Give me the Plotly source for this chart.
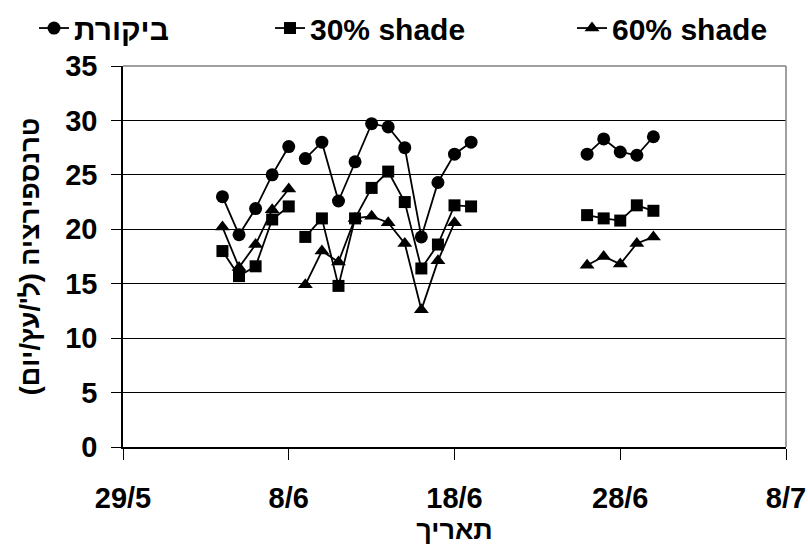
import plotly.graph_objects as go

# ---- data (None = gap in the measured series) ----
dates = [
    "2009-06-04", "2009-06-05", "2009-06-06", "2009-06-07", "2009-06-08",
    "2009-06-08 12:00",
    "2009-06-09", "2009-06-10", "2009-06-11", "2009-06-12", "2009-06-13",
    "2009-06-14", "2009-06-15", "2009-06-16", "2009-06-17", "2009-06-18",
    "2009-06-19",
    "2009-06-22",
    "2009-06-26", "2009-06-27", "2009-06-28", "2009-06-29", "2009-06-30",
]
control = [23.0, 19.5, 21.9, 25.0, 27.6,
           None,
           26.5, 28.0, 22.6, 26.2, 29.7, 29.4, 27.5, 19.3, 24.3, 26.9, 28.0,
           None,
           26.9, 28.3, 27.1, 26.8, 28.5]
shade30 = [18.0, 15.7, 16.6, 20.9, 22.1,
           None,
           19.3, 21.0, 14.8, 21.0, 23.8, 25.3, 22.5, 16.4, 18.6, 22.2, 22.1,
           None,
           21.3, 21.0, 20.8, 22.2, 21.7]
shade60 = [20.2, 16.5, 18.6, 21.8, 23.7,
           None,
           14.9, 18.0, 17.0, 21.0, 21.2, 20.6, 18.7, 12.6, 17.1, 20.6, None,
           None,
           16.7, 17.5, 16.8, 18.7, 19.3]

series_names = ["ביקורת", "30% shade", "60% shade"]
tick_dates = ["2009-05-29", "2009-06-08", "2009-06-18", "2009-06-28", "2009-07-08"]
tick_labels = ["29/5", "8/6", "18/6", "28/6", "8/7"]
y_title = "טרנספירציה (ל'/עץ/יום)\u200f"
x_title = "תאריך"

FONT = "Liberation Sans, Arial, sans-serif"

fig = go.Figure()
styles = [("circle", 13, "legend"), ("square", 12, "legend2"), ("triangle-up", 13, "legend3")]
for name, vals, (sym, size, leg) in zip(series_names, [control, shade30, shade60], styles):
    fig.add_trace(go.Scatter(
        x=dates, y=vals, name=name, mode="lines+markers",
        connectgaps=False,
        line=dict(color="black", width=1.8),
        marker=dict(symbol=sym, size=size, color="black"),
        legend=leg,
    ))

legfont = dict(family=FONT, size=30, color="black", weight="bold")
def leg(xpx):
    return dict(x=(xpx - 123) / 663, y=(447.3 - 28) / 381.3, xanchor="left", yanchor="middle",
                orientation="h", font=legfont, bgcolor="rgba(0,0,0,0)", borderwidth=0,
                itemwidth=30)

fig.update_layout(
    width=808, height=552,
    margin=dict(l=123, r=22, t=66, b=105, autoexpand=False),
    paper_bgcolor="white", plot_bgcolor="white",
    showlegend=True,
    legend=leg(34), legend2=leg(270), legend3=leg(572),
    xaxis=dict(
        type="date",
        range=["2009-05-29", "2009-07-08"],
        tickvals=tick_dates, ticktext=tick_labels,
        ticks="outside", ticklen=11, tickwidth=1.3, tickcolor="black",
        showline=True, linecolor="black", linewidth=1.5,
        showgrid=False, zeroline=False,
        tickfont=dict(family=FONT, size=29, color="black", weight="bold"),
        ticklabelstandoff=13,
        title=dict(text=x_title, standoff=8,
                   font=dict(family=FONT, size=27, color="black", weight="bold")),
    ),
    yaxis=dict(
        range=[0, 35], dtick=5, tick0=0,
        ticks="outside", ticklen=10, tickwidth=1.3, tickcolor="black",
        showline=True, linecolor="black", linewidth=1.5,
        showgrid=True, gridcolor="black", gridwidth=1.3,
        zeroline=False,
        tickfont=dict(family=FONT, size=29, color="black", weight="bold"),
        ticklabelstandoff=8,
        title=dict(text=y_title, standoff=18,
                   font=dict(family=FONT, size=27, color="black", weight="bold")),
    ),
    shapes=[
        dict(type="line", xref="x domain", yref="y domain", x0=0, x1=1, y0=1, y1=1,
             line=dict(color="#808080", width=1.5), layer="above"),
        dict(type="line", xref="x domain", yref="y domain", x0=1, x1=1, y0=0, y1=1,
             line=dict(color="#808080", width=1.5), layer="above"),
    ],
)

fig.write_html("out.html")
